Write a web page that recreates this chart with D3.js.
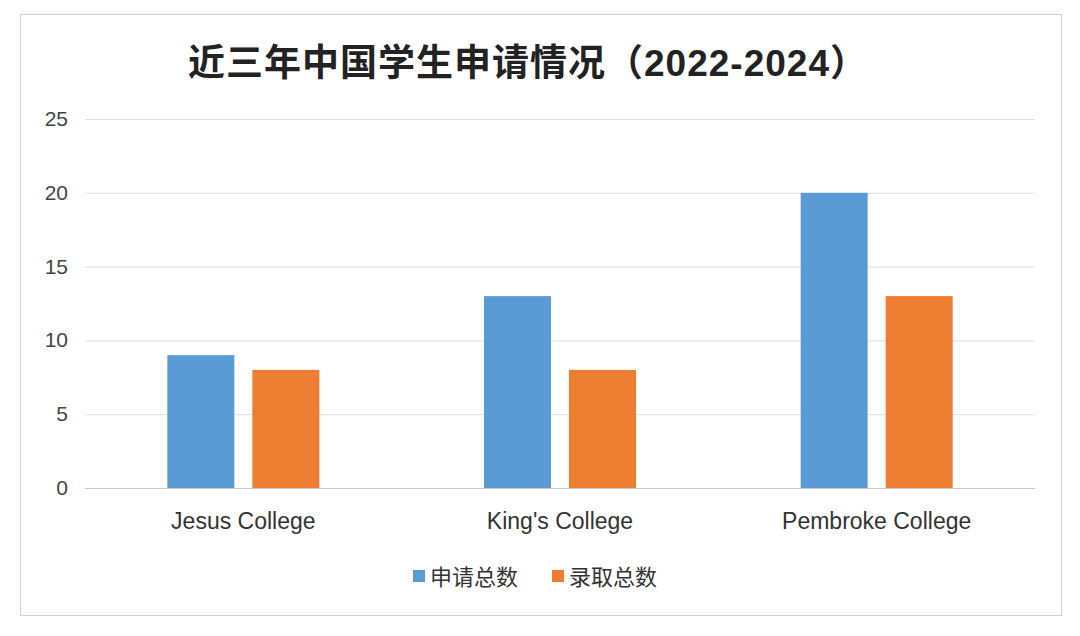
<!DOCTYPE html>
<html><head><meta charset="utf-8">
<script src="https://cdn.jsdelivr.net/npm/d3@7"></script>
<style>body{margin:0;background:#fff}</style>
</head><body>
<svg id="chart" width="1080" height="636"></svg>
<script>
const categories=["Jesus College","King's College","Pembroke College"];
const applied=[9,13,20];
const admitted=[8,8,13];
const seriesNames=["申请总数","录取总数"];
const colors=["#5b9bd5","#ed7d31"];
const yTicks=[0,5,10,15,20,25];

const svg=d3.select("#chart");
const font="'Liberation Sans','Noto Sans CJK SC',sans-serif";
svg.append("rect").attr("x",20.5).attr("y",14.5).attr("width",1041).attr("height",601)
  .attr("fill","#fff").attr("stroke","#d0d0d0");

svg.append("text").attr("x",528).attr("y",76).attr("text-anchor","middle")
  .attr("font-family",font).attr("font-size",37).attr("font-weight","bold").attr("fill","#222")
  .attr("letter-spacing",1)
  .text("近三年中国学生申请情况（2022-2024）");

const x=d3.scaleBand().domain(categories).range([85,1035]);
const y=d3.scaleLinear().domain([0,25]).range([488,119]);

// grid
svg.append("g").selectAll("line").data(yTicks).join("line")
  .attr("x1",85).attr("x2",1035).attr("y1",d=>y(d)+0.5).attr("y2",d=>y(d)+0.5)
  .attr("stroke",d=>d===0?"#c8c8c8":"#dedede");

svg.append("g").selectAll("text").data(yTicks).join("text")
  .attr("x",68).attr("y",d=>y(d)+7).attr("text-anchor","end")
  .attr("font-family",font).attr("font-size",21).attr("fill","#444").text(d=>d);

const bw=67, gap=18;
const series=[applied,admitted];
series.forEach(function(vals,s){
  svg.append("g").selectAll("rect").data(vals).join("rect")
    .attr("x",(d,i)=>x(categories[i])+x.bandwidth()/2-bw-gap/2+s*(bw+gap))
    .attr("y",d=>y(d)).attr("width",bw).attr("height",d=>y(0)-y(d))
    .attr("fill",colors[s]);
});

svg.append("g").selectAll("text").data(categories).join("text")
  .attr("x",d=>x(d)+x.bandwidth()/2).attr("y",529).attr("text-anchor","middle")
  .attr("font-family",font).attr("font-size",23).attr("fill","#333").text(d=>d);

// legend
const lx=[413,552];
seriesNames.forEach(function(n,i){
  svg.append("rect").attr("x",lx[i]).attr("y",570).attr("width",12).attr("height",12).attr("fill",colors[i]);
  svg.append("text").attr("x",lx[i]+17).attr("y",585).attr("font-family",font)
    .attr("font-size",22).attr("fill","#333").text(n);
});
</script>
</body></html>
